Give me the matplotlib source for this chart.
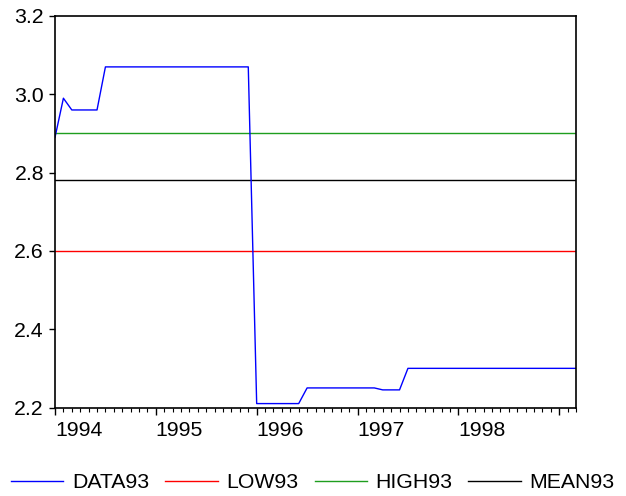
import numpy as np
import matplotlib
matplotlib.use('Agg')
import matplotlib.pyplot as plt

# monthly observations, 1994M01 .. 1999M03
data93 = ([2.89, 2.99] + [2.96] * 4 + [3.07] * 18 + [2.21] * 6
          + [2.25] * 9 + [2.245] * 3 + [2.30] * 21)
low93 = 2.60
high93 = 2.90
mean93 = 2.78
year_labels = ['1994', '1995', '1996', '1997', '1998', '']

plt.rcParams['font.family'] = ['Liberation Sans', 'DejaVu Sans']
fs = 15.3

fig = plt.figure(figsize=(6.26, 4.96), dpi=100)
ax = fig.add_axes([55 / 626, 1 - 407.5 / 496, 521 / 626, 391.5 / 496])

n = len(data93)
x = np.arange(n)

l_low, = ax.plot(x, [low93] * n, color='#ff0000', lw=1.0)
l_high, = ax.plot(x, [high93] * n, color='#1e9e1e', lw=1.0)
l_mean, = ax.plot(x, [mean93] * n, color='black', lw=1.0)
l_data, = ax.plot(x, data93, color='#0000ff', lw=1.0)

ax.set_xlim(0, n - 1)
ax.set_ylim(2.2, 3.2)
ax.set_yticks([2.2, 2.4, 2.6, 2.8, 3.0, 3.2])
ax.set_yticklabels(['2.2', '2.4', '2.6', '2.8', '3.0', '3.2'])

ax.set_xticks(np.arange(0, n, 12))
ax.set_xticklabels(year_labels, ha='left')
ax.set_xticks(x, minor=True)

for s in ax.spines.values():
    s.set_linewidth(1.2)

ax.tick_params(axis='x', which='major', direction='out', length=5, width=1.0,
               pad=5, labelsize=fs)
ax.tick_params(axis='x', which='minor', direction='out', length=3, width=0.8)
ax.tick_params(axis='y', which='major', direction='out', length=4.5, width=1.0,
               pad=3.5, labelsize=fs)

fig.legend([l_data, l_low, l_high, l_mean], ['DATA93', 'LOW93', 'HIGH93', 'MEAN93'],
           loc='center', bbox_to_anchor=(313 / 626, 1 - 483 / 496), ncol=4, frameon=False,
           fontsize=fs, handlelength=2.45, handletextpad=0.42, columnspacing=0.75,
           borderaxespad=0, borderpad=0)

fig.savefig('out.png', dpi=100)
